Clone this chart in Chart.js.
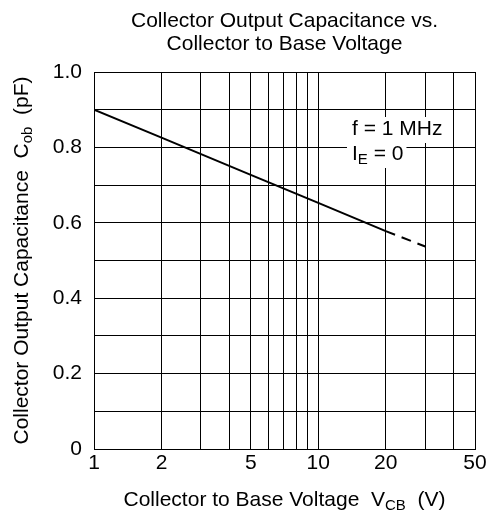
<!DOCTYPE html>
<html>
<head>
<meta charset="utf-8">
<script src="https://cdn.jsdelivr.net/npm/chart.js@4"></script>
<style>
  html, body { margin: 0; padding: 0; background: #fff; }
  #wrap { width: 491px; height: 515px; }
</style>
</head>
<body>
<div id="wrap"><canvas id="capChart" width="491" height="515"></canvas></div>
<script>
// values
const vcbSolid = [1, 2, 5, 10, 20];
const cobSolid = [0.90, 0.826, 0.727, 0.653, 0.578];
const vcbDashed = [20, 30];
const cobDashed = [0.578, 0.537];

const xGridTicks = [1, 2, 3, 4, 5, 6, 7, 8, 9, 10, 20, 30, 40, 50];
const xLabelTicks = [1, 2, 5, 10, 20, 50];
const yLabelTicks = [0, 0.2, 0.4, 0.6, 0.8, 1.0];

const FONT = '"Liberation Sans", Arial, sans-serif';
const FS = 21;

function drawParts(ctx, parts, x, y, size) {
    // parts: [[text, isSub], ...] drawn from left starting at x, middle baseline y
    let cx = x;
    parts.forEach(p => {
        const sub = p[1];
        ctx.font = (sub ? Math.round(size * 0.72) : size) + 'px ' + FONT;
        ctx.fillText(p[0], cx, sub ? y + size * 0.3 : y);
        cx += ctx.measureText(p[0]).width;
    });
    return cx - x;
}

function partsWidth(ctx, parts, size) {
    let w = 0;
    parts.forEach(p => {
        ctx.font = (p[1] ? Math.round(size * 0.72) : size) + 'px ' + FONT;
        w += ctx.measureText(p[0]).width;
    });
    return w;
}

const labelsPlugin = {
    id: 'labelsPlugin',
    afterDraw(chart) {
        const ctx = chart.ctx;
        const area = chart.chartArea;
        ctx.save();
        ctx.fillStyle = '#000';
        ctx.textBaseline = 'middle';
        ctx.textAlign = 'left';

        // x axis title
        const xParts = [['Collector to Base Voltage  V', false], ['CB', true], ['  (V)', false]];
        const xw = partsWidth(ctx, xParts, FS);
        drawParts(ctx, xParts, (area.left + area.right) / 2 - xw / 2, 500, FS);

        // y axis title
        const yParts = [['Collector Output Capacitance  C', false], ['ob', true], ['  (pF)', false]];
        const yw = partsWidth(ctx, yParts, FS);
        ctx.save();
        ctx.translate(22, (area.top + area.bottom) / 2);
        ctx.rotate(-Math.PI / 2);
        drawParts(ctx, yParts, -yw / 2, 0, FS);
        ctx.restore();

        // condition note with white boxes behind each line
        const notes = [
            { parts: [['f = 1 MHz', false]], x: 352, y: 129 },
            { parts: [['I', false], ['E', true], [' = 0', false]], x: 352, y: 154 }
        ];
        notes.forEach(n => {
            const w = partsWidth(ctx, n.parts, FS);
            ctx.fillStyle = '#fff';
            ctx.fillRect(n.x - 5, n.y - 12, w + 8, 26);
        });
        ctx.fillStyle = '#000';
        notes.forEach(n => drawParts(ctx, n.parts, n.x, n.y, FS));
        ctx.restore();
    }
};

new Chart(document.getElementById('capChart'), {
    type: 'line',
    data: {
        datasets: [
            {
                data: vcbSolid.map((v, i) => ({ x: v, y: cobSolid[i] })),
                borderColor: '#000',
                borderWidth: 2,
                pointRadius: 0,
                tension: 0
            },
            {
                data: vcbDashed.map((v, i) => ({ x: v, y: cobDashed[i] })),
                borderColor: '#000',
                borderWidth: 2,
                borderDash: [10, 7],
                pointRadius: 0,
                tension: 0
            }
        ]
    },
    options: {
        responsive: false,
        animation: false,
        layout: { padding: { left: 34, right: 16, top: 0, bottom: 26 } },
        plugins: {
            legend: { display: false },
            tooltip: { enabled: false },
            title: {
                display: true,
                fullSize: false,
                text: ['Collector Output Capacitance vs.', 'Collector to Base Voltage'],
                color: '#000',
                font: { family: FONT, size: FS, weight: 'normal', lineHeight: '23px' },
                padding: { top: 10, bottom: 16 }
            }
        },
        scales: {
            x: {
                type: 'logarithmic',
                min: 1,
                max: 50,
                afterBuildTicks: s => { s.ticks = xGridTicks.map(v => ({ value: v })); },
                afterFit: s => { s.height = 40; },
                grid: { color: '#000', lineWidth: 1, drawTicks: false },
                border: { color: '#000', width: 1 },
                ticks: {
                    autoSkip: false,
                    maxRotation: 0,
                    padding: 2,
                    color: '#000',
                    font: { family: FONT, size: FS },
                    callback: v => xLabelTicks.includes(v) ? String(v) : ''
                }
            },
            y: {
                min: 0,
                max: 1.0,
                afterFit: s => { s.width = 60; },
                grid: { color: '#000', lineWidth: 1, drawTicks: false },
                border: { color: '#000', width: 1 },
                ticks: {
                    stepSize: 0.1,
                    padding: 12,
                    color: '#000',
                    font: { family: FONT, size: FS },
                    callback: v => {
                        const r = Math.round(v * 10) / 10;
                        if (!yLabelTicks.some(t => Math.abs(t - r) < 1e-9)) return '';
                        return r === 0 ? '0' : r.toFixed(1);
                    }
                }
            }
        }
    },
    plugins: [labelsPlugin]
});
</script>
</body>
</html>
